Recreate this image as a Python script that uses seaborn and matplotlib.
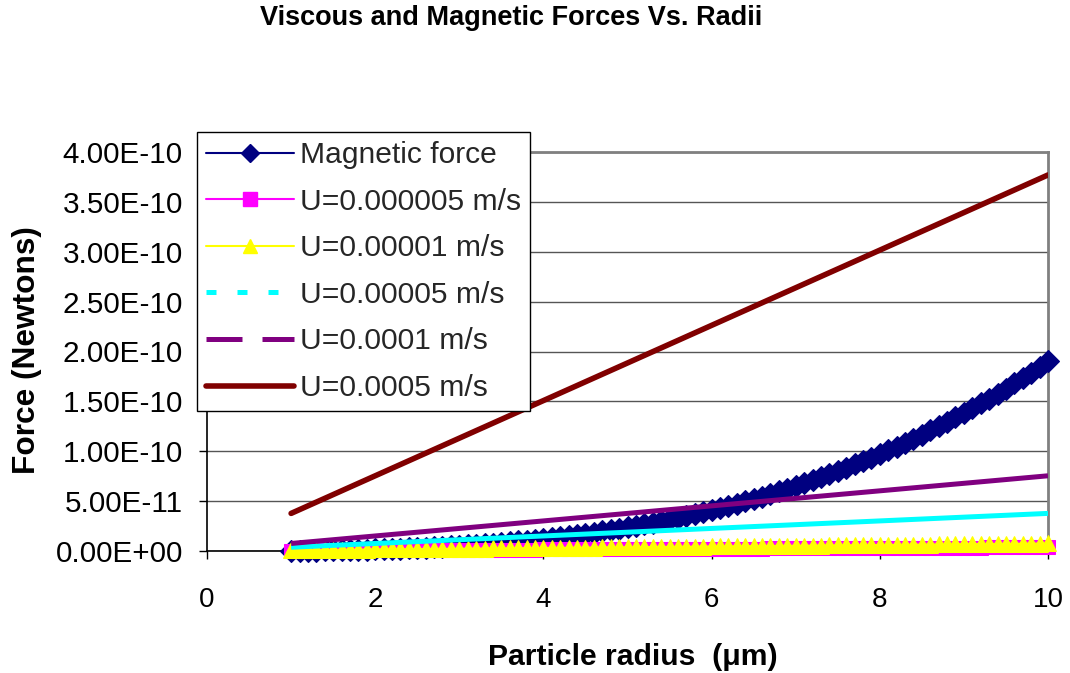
import numpy as np
import pandas as pd
import matplotlib
matplotlib.use("Agg")
import matplotlib.pyplot as plt
import seaborn as sns
from matplotlib.lines import Line2D
from matplotlib.ticker import FuncFormatter, MultipleLocator

# Particle radii (micrometres): fine grid for the marked series, whole microns for the plain lines
radius_fine = np.round(np.arange(1.0, 10.01, 0.1), 1)
radius_coarse = np.arange(1, 11)

# Forces in piconewtons
magnetic_pN = [
    0.19, 0.25, 0.33, 0.42, 0.52, 0.64, 0.78, 0.93, 1.11, 1.30,
    1.52, 1.76, 2.02, 2.31, 2.63, 2.97, 3.34, 3.74, 4.17, 4.63,
    5.13, 5.66, 6.23, 6.83, 7.47, 8.15, 8.87, 9.62, 10.43, 11.27,
    12.16, 13.10, 14.08, 15.11, 16.19, 17.31, 18.49, 19.73, 21.01, 22.35,
    23.75, 25.20, 26.72, 28.29, 29.92, 31.61, 33.37, 35.19, 37.07, 39.02,
    41.04, 43.13, 45.28, 47.51, 49.81, 52.18, 54.62, 57.15, 59.74, 62.42,
    65.17, 68.00, 70.92, 73.91, 76.99, 80.16, 83.41, 86.74, 90.17, 93.68,
    97.28, 100.97, 104.76, 108.64, 112.61, 116.68, 120.85, 125.12, 129.48, 133.94,
    138.51, 143.18, 147.95, 152.83, 157.81, 162.90, 168.10, 173.41, 178.83, 184.36,
    190.00,
]
visc_u5e6_pN = [
    0.38, 0.41, 0.45, 0.49, 0.53, 0.57, 0.60, 0.64, 0.68, 0.72,
    0.75, 0.79, 0.83, 0.87, 0.90, 0.94, 0.98, 1.02, 1.06, 1.09,
    1.13, 1.17, 1.21, 1.24, 1.28, 1.32, 1.36, 1.39, 1.43, 1.47,
    1.51, 1.55, 1.58, 1.62, 1.66, 1.70, 1.73, 1.77, 1.81, 1.85,
    1.88, 1.92, 1.96, 2.00, 2.04, 2.07, 2.11, 2.15, 2.19, 2.22,
    2.26, 2.30, 2.34, 2.38, 2.41, 2.45, 2.49, 2.53, 2.56, 2.60,
    2.64, 2.68, 2.71, 2.75, 2.79, 2.83, 2.87, 2.90, 2.94, 2.98,
    3.02, 3.05, 3.09, 3.13, 3.17, 3.20, 3.24, 3.28, 3.32, 3.36,
    3.39, 3.43, 3.47, 3.51, 3.54, 3.58, 3.62, 3.66, 3.69, 3.73,
    3.77,
]
visc_u1e5_pN = [
    0.75, 0.83, 0.90, 0.98, 1.06, 1.13, 1.21, 1.28, 1.36, 1.43,
    1.51, 1.58, 1.66, 1.73, 1.81, 1.89, 1.96, 2.04, 2.11, 2.19,
    2.26, 2.34, 2.41, 2.49, 2.56, 2.64, 2.71, 2.79, 2.87, 2.94,
    3.02, 3.09, 3.17, 3.24, 3.32, 3.39, 3.47, 3.54, 3.62, 3.69,
    3.77, 3.85, 3.92, 4.00, 4.07, 4.15, 4.22, 4.30, 4.37, 4.45,
    4.52, 4.60, 4.67, 4.75, 4.83, 4.90, 4.98, 5.05, 5.13, 5.20,
    5.28, 5.35, 5.43, 5.50, 5.58, 5.66, 5.73, 5.81, 5.88, 5.96,
    6.03, 6.11, 6.18, 6.26, 6.33, 6.41, 6.48, 6.56, 6.64, 6.71,
    6.79, 6.86, 6.94, 7.01, 7.09, 7.16, 7.24, 7.31, 7.39, 7.46,
    7.54,
]
visc_u5e5_pN = [3.77, 7.54, 11.31, 15.08, 18.85, 22.62, 26.39, 30.16, 33.93, 37.70]
visc_u1e4_pN = [7.54, 15.08, 22.62, 30.16, 37.70, 45.24, 52.78, 60.32, 67.86, 75.40]
visc_u5e4_pN = [37.7, 75.4, 113.1, 150.8, 188.5, 226.2, 263.9, 301.6, 339.3, 377.0]

series_labels = [
    "Magnetic force",
    "U=0.000005 m/s",
    "U=0.00001 m/s",
    "U=0.00005 m/s",
    "U=0.0001 m/s",
    "U=0.0005 m/s",
]
PN = 1e-12

sns.set_style("white")
plt.rcParams["font.family"] = ["Liberation Sans", "DejaVu Sans"]

W, H = 1070, 673
fig = plt.figure(figsize=(W / 100, H / 100), dpi=100)
ax = fig.add_axes([207 / W, 1 - 551 / H, (1048 - 207) / W, (551 - 152) / H])

navy, magenta, yellow = "#000080", "#FF00FF", "#FFFF00"
cyan, purple, maroon = "#00FFFF", "#800080", "#800000"

fine = pd.DataFrame({
    "radius": radius_fine,
    "magnetic": np.array(magnetic_pN) * PN,
    "u5e6": np.array(visc_u5e6_pN) * PN,
    "u1e5": np.array(visc_u1e5_pN) * PN,
})
coarse = pd.DataFrame({
    "radius": radius_coarse,
    "u5e5": np.array(visc_u5e5_pN) * PN,
    "u1e4": np.array(visc_u1e4_pN) * PN,
    "u5e4": np.array(visc_u5e4_pN) * PN,
})

sns.lineplot(data=fine, x="radius", y="magnetic", ax=ax, color=navy, lw=1.5,
             marker="D", markersize=11.5, markeredgecolor=navy, markerfacecolor=navy,
             markeredgewidth=0.8, clip_on=False, zorder=3)
sns.lineplot(data=fine, x="radius", y="u5e6", ax=ax, color=magenta, lw=1.5,
             marker="s", markersize=10.5, markeredgecolor=magenta, markerfacecolor=magenta,
             clip_on=False, zorder=4)
sns.lineplot(data=fine, x="radius", y="u1e5", ax=ax, color=yellow, lw=1.5,
             marker="^", markersize=12, markeredgecolor=yellow, markerfacecolor=yellow,
             clip_on=False, zorder=5)
sns.lineplot(data=coarse, x="radius", y="u5e5", ax=ax, color=cyan, lw=3.6,
             solid_capstyle="butt", zorder=6)
sns.lineplot(data=coarse, x="radius", y="u1e4", ax=ax, color=purple, lw=3.6,
             solid_capstyle="butt", zorder=7)
sns.lineplot(data=coarse, x="radius", y="u5e4", ax=ax, color=maroon, lw=4,
             solid_capstyle="round", zorder=8)

ax.set_xlim(0, 10)
ax.set_ylim(0, 4e-10)
ax.xaxis.set_major_locator(MultipleLocator(2))
ax.yaxis.set_major_locator(MultipleLocator(5e-11))
ax.yaxis.set_major_formatter(FuncFormatter(lambda v, p: f"{v:.2E}"))
ax.xaxis.set_major_formatter(FuncFormatter(lambda v, p: f"{v:g}"))
ax.set_xlabel("")
ax.set_ylabel("")

ax.yaxis.grid(True, color="#555555", lw=1, zorder=0)
ax.xaxis.grid(False)
ax.set_axisbelow(True)
for side in ("top", "right"):
    ax.spines[side].set_color("#808080")
    ax.spines[side].set_linewidth(2)
for side in ("left", "bottom"):
    ax.spines[side].set_color("black")
    ax.spines[side].set_linewidth(1.2)
    ax.spines[side].set_zorder(2)

ax.tick_params(axis="y", which="major", left=True, direction="out", length=5.8,
               width=1, pad=11.5, labelsize=21.3, colors="black")
ax.tick_params(axis="x", which="major", bottom=True, direction="out", length=5.8,
               width=1, pad=20, labelsize=20, colors="black")

fig.text(511 / W, 1 - 18 / H, "Viscous and Magnetic Forces Vs. Radii",
         ha="center", va="center", fontsize=19.5, fontweight="bold", color="black")
fig.text(633 / W, 1 - 657 / H, "Particle radius  (\u03bcm)",
         ha="center", va="center", fontsize=21.7, fontweight="bold", color="black")
fig.text(27 / W, 1 - 350 / H, "Force (Newtons)", rotation=90,
         ha="center", va="center", fontsize=22.8, fontweight="bold", color="black")

handles = [
    Line2D([], [], color=navy, lw=1.5, marker="D", markersize=9,
           markerfacecolor=navy, markeredgecolor=navy),
    Line2D([], [], color=magenta, lw=1.5, marker="s", markersize=10,
           markerfacecolor=magenta, markeredgecolor=magenta),
    Line2D([], [], color=yellow, lw=1.5, marker="^", markersize=10,
           markerfacecolor=yellow, markeredgecolor=yellow),
    Line2D([], [], color=cyan, lw=3.6, linestyle=(0, (2, 4.2))),
    Line2D([], [], color=purple, lw=3.6, linestyle=(0, (7.2, 4))),
    Line2D([], [], color=maroon, lw=4, solid_capstyle="round"),
]
leg = ax.legend(handles, series_labels, loc="upper left",
                bbox_to_anchor=(197 / W, 1 - 132 / H), bbox_transform=fig.transFigure,
                fontsize=21.6, frameon=True, fancybox=False, framealpha=1,
                edgecolor="black", borderpad=0.3, labelspacing=0.62,
                handlelength=2.93, handletextpad=0.2, borderaxespad=0, numpoints=1)
leg.get_frame().set_linewidth(1)
leg.set_zorder(20)

fig.savefig("out.png", dpi=100)
